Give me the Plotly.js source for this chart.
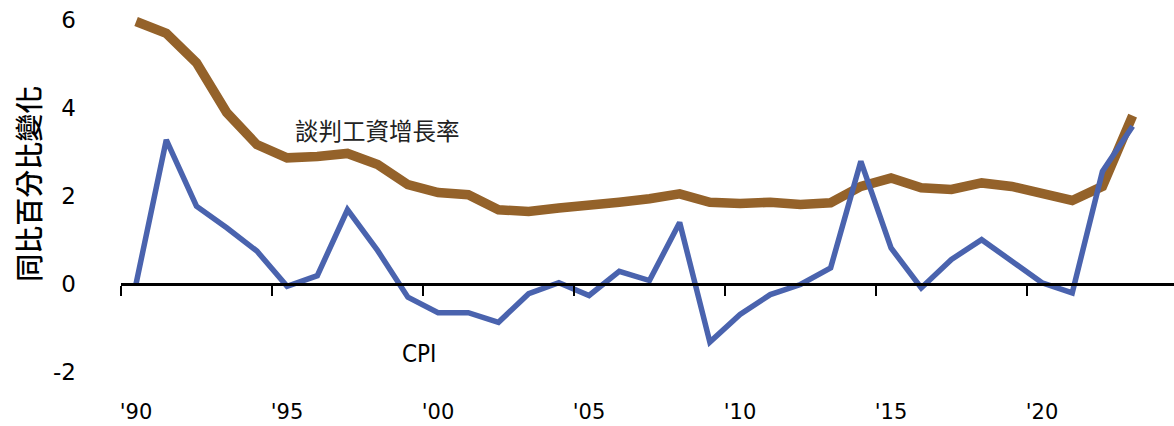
<!DOCTYPE html>
<html>
<head>
<meta charset="utf-8">
<script src="https://cdn.plot.ly/plotly-3.0.1.min.js"></script>
<style>html,body{margin:0;padding:0;background:#fff;}#chart{width:1174px;height:426px;}</style>
</head>
<body>
<div id="chart"></div>
<script>
const years = [1990,1991,1992,1993,1994,1995,1996,1997,1998,1999,2000,2001,2002,2003,2004,2005,2006,2007,2008,2009,2010,2011,2012,2013,2014,2015,2016,2017,2018,2019,2020,2021,2022,2023];
const wageGrowth = [5.97,5.70,5.03,3.90,3.17,2.87,2.90,2.97,2.72,2.26,2.08,2.03,1.69,1.65,1.73,1.77,1.86,1.94,2.05,1.86,1.83,1.86,1.81,1.85,2.22,2.41,2.19,2.15,2.30,2.22,2.06,1.90,2.22,3.83];
const cpi = [0.01,3.28,1.77,1.28,0.75,-0.05,0.19,1.69,0.76,-0.30,-0.65,-0.65,-0.87,-0.22,0.03,-0.26,0.29,0.08,1.40,-1.32,-0.69,-0.24,-0.01,0.37,2.79,0.82,-0.09,0.56,1.01,0.52,0.03,-0.20,2.56,3.59];
const tickYears = [1990,1995,2000,2005,2010,2015,2020];
const tickLabels = ["'90","'95","'00","'05","'10","'15","'20"];
const boundaryTicks = [1989.5,1994.5,1999.5,2004.5,2009.5,2014.5,2019.5];
const yTicks = [-2,0,2,4,6];
const yTickLabels = ["-2","0","2","4","6"];
const seriesNames = ["談判工資增長率","CPI"];
const yTitle = "同比百分比變化";

const xRange = [1989.5, 2024.37];
const yRange = [-2.5, 6.3];

const traces = [
  {x: years, y: wageGrowth, name: seriesNames[0], type: 'scatter', mode: 'lines',
   line: {color: '#94622A', width: 9.5, shape: 'linear'}},
  {x: years, y: cpi, name: seriesNames[1], type: 'scatter', mode: 'lines',
   line: {color: '#4A63AE', width: 5.5}}
];

const layout = {
  width: 1174, height: 426,
  margin: {l: 121, r: 0, t: 7, b: 32, pad: 0},
  paper_bgcolor: '#ffffff', plot_bgcolor: '#ffffff',
  showlegend: false,
  font: {family: '"DejaVu Sans", sans-serif', color: '#000', size: 23},
  xaxis: {
    range: xRange, showgrid: false, zeroline: false, showline: false,
    tickmode: 'array', tickvals: tickYears, ticktext: tickLabels, ticks: '',
    tickfont: {family: '"DejaVu Sans", sans-serif', size: 21, color: '#000'}, ticklabelstandoff: 3
  },
  xaxis2: {
    range: xRange, overlaying: 'x', anchor: 'free', position: 2.5/8.8, side: 'bottom',
    showgrid: false, zeroline: false, showline: true, linecolor: '#000', linewidth: 3,
    tickmode: 'array', tickvals: boundaryTicks, ticks: 'outside', ticklen: 10, tickwidth: 2.5, tickcolor: '#000',
    showticklabels: false
  },
  yaxis: {
    range: yRange, showgrid: false, zeroline: false, showline: false,
    tickmode: 'array', tickvals: yTicks, ticktext: yTickLabels, ticks: '', ticklabelstandoff: 44,
    tickfont: {family: '"DejaVu Sans", sans-serif', size: 23, color: '#000'}
  },
  annotations: [
    {x: (28 - 121) / 1053, y: (394.5 - 184) / 387.5, xref: 'paper', yref: 'paper', text: yTitle, textangle: -90,
     showarrow: false, xanchor: 'center', yanchor: 'middle',
     font: {family: '"Noto Sans CJK TC", sans-serif', size: 28, color: '#000', weight: 500}},
    {x: 1997.98, y: 3.51, xref: 'x', yref: 'y', text: seriesNames[0], showarrow: false,
     font: {family: '"Noto Sans CJK TC", sans-serif', size: 23.5, color: '#222'}},
    {x: 1999.37, y: -1.6, xref: 'x', yref: 'y', text: seriesNames[1], showarrow: false,
     font: {family: '"Liberation Sans Narrow", "DejaVu Sans Condensed", "Liberation Sans", sans-serif', size: 24, color: '#000'}}
  ]
};

const dummy = {x: [xRange[0]], y: [0], xaxis: 'x2', yaxis: 'y', mode: 'markers', marker: {opacity: 0}, hoverinfo: 'skip', showlegend: false};

Plotly.newPlot('chart', [dummy].concat(traces), layout, {staticPlot: true});
</script>
</body>
</html>
